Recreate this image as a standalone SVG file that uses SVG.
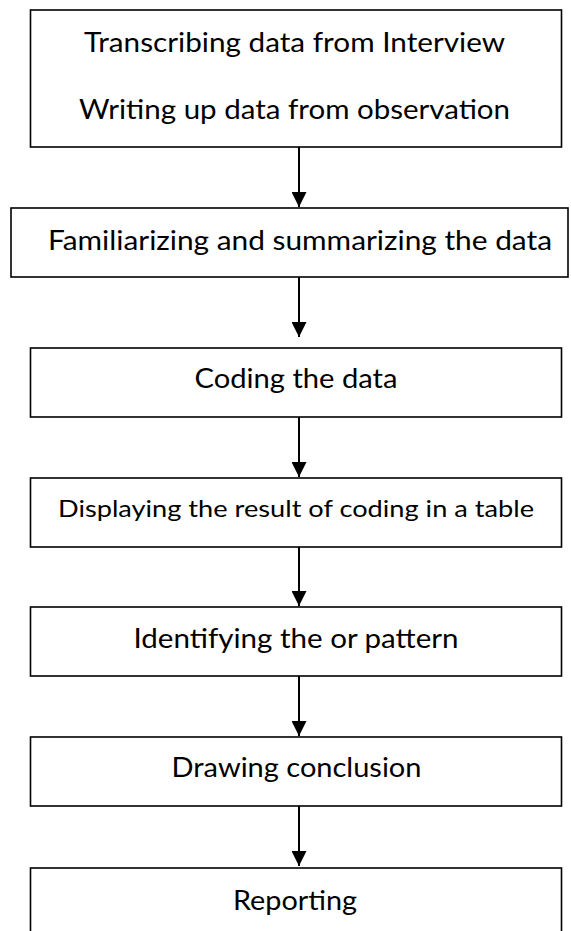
<svg xmlns="http://www.w3.org/2000/svg" width="571" height="931" viewBox="0 0 571 931">
<style>
.box{fill:#fff;stroke:#000;stroke-width:1.6}
.t{font-family:Lato,"Open Sans",sans-serif;font-size:26px;fill:#000;text-anchor:middle}
.s{font-size:24px}
.c{stroke:#000;stroke-width:2;fill:none}
</style>
<defs>
<marker id="ah" markerWidth="16" markerHeight="15" refX="15" refY="7.5" orient="auto" markerUnits="userSpaceOnUse">
<path d="M0,0 L15,7.5 L0,15 Z" fill="#000"/>
</marker>
</defs>
<rect width="571" height="931" fill="#fff"/>
<g id="connectors">
<line class="c" x1="299" y1="147" x2="299" y2="207" marker-end="url(#ah)"/>
<line class="c" x1="299" y1="277" x2="299" y2="337" marker-end="url(#ah)"/>
<line class="c" x1="299" y1="417" x2="299" y2="477" marker-end="url(#ah)"/>
<line class="c" x1="299" y1="547" x2="299" y2="606" marker-end="url(#ah)"/>
<line class="c" x1="299" y1="676" x2="299" y2="736" marker-end="url(#ah)"/>
<line class="c" x1="299" y1="806" x2="299" y2="866" marker-end="url(#ah)"/>
</g>
<g id="n1">
<rect class="box" x="30.5" y="10" width="531" height="137"/>
<text class="t" x="294.5" y="52" textLength="421" lengthAdjust="spacingAndGlyphs">Transcribing data from Interview</text>
<text class="t" x="294.5" y="119" textLength="431" lengthAdjust="spacingAndGlyphs">Writing up data from observation</text>
</g>
<g id="n2">
<rect class="box" x="11" y="208" width="557" height="69"/>
<text class="t" x="300" y="250" textLength="504" lengthAdjust="spacingAndGlyphs">Familiarizing and summarizing the data</text>
</g>
<g id="n3">
<rect class="box" x="30.5" y="348" width="531" height="69"/>
<text class="t" x="296" y="388" textLength="203" lengthAdjust="spacingAndGlyphs">Coding the data</text>
</g>
<g id="n4">
<rect class="box" x="30.5" y="478" width="531" height="69"/>
<text class="t s" x="296" y="517" textLength="476" lengthAdjust="spacingAndGlyphs">Displaying the result of coding in a table</text>
</g>
<g id="n5">
<rect class="box" x="30.5" y="607" width="531" height="69"/>
<text class="t" x="296" y="648" textLength="325" lengthAdjust="spacingAndGlyphs">Identifying the or pattern</text>
</g>
<g id="n6">
<rect class="box" x="30.5" y="737" width="531" height="69"/>
<text class="t" x="296.5" y="777" textLength="250" lengthAdjust="spacingAndGlyphs">Drawing conclusion</text>
</g>
<g id="n7">
<rect class="box" x="30.5" y="868" width="531" height="80"/>
<text class="t" x="295" y="910" textLength="124" lengthAdjust="spacingAndGlyphs">Reporting</text>
</g>
</svg>
